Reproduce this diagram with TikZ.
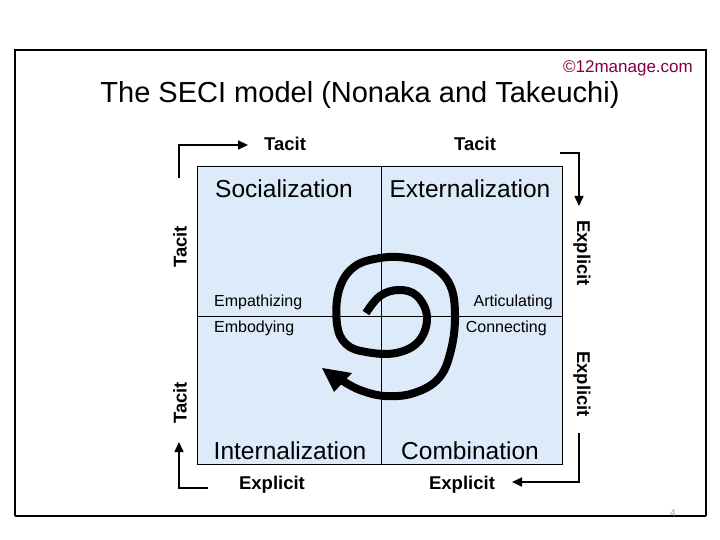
\documentclass[tikz,border=0pt]{standalone}
\usepackage{fontspec}
\setmainfont{Liberation Sans}
\usetikzlibrary{arrows.meta}
\definecolor{quadblue}{RGB}{220,234,249}
\definecolor{brandred}{RGB}{128,0,64}
\tikzset{
  axislabel/.style={font=\fontsize{18.5}{18.5}\selectfont\bfseries, inner sep=0pt},
  quadlabel/.style={font=\fontsize{24.5}{24.5}\selectfont, inner sep=0pt},
  sublabel/.style={font=\fontsize{16}{16}\selectfont, inner sep=0pt},
  flowarrow/.style={line width=1.5pt, -{Triangle[length=10pt,width=9pt]}},
}
\begin{document}
\begin{tikzpicture}[x=1pt,y=-1pt]
\useasboundingbox (0,0) rectangle (720,540);
% frame
\draw[line width=2pt] (15,516) -- (15,50) -- (706,50) -- (706,516);
\draw[line width=1.6pt] (15,516) -- (706,516);
\node[font=\fontsize{10}{10}\selectfont, text=black!35, inner sep=0pt, anchor=base] (pagenum) at (673,516) {4};
% title
\node[font=\fontsize{29}{29}\selectfont, inner sep=0pt, anchor=base] (title) at (360,103) {The SECI model (Nonaka and Takeuchi)};
\node[font=\fontsize{17}{17}\selectfont, text=brandred, inner sep=0pt, anchor=base east] (brand) at (693,73) {\textcopyright12manage.com};
% quadrants
\draw[fill=quadblue, line width=1pt] (197,167) rectangle (562,464);
\draw[line width=0.8pt] (381,167) -- (381,464);
\draw[line width=0.8pt] (197,316) -- (562,316);
\node[quadlabel, anchor=base] (soc) at (284,197) {Socialization};
\node[quadlabel, anchor=base] (ext) at (470,197) {Externalization};
\node[quadlabel, anchor=base] (int) at (290,459) {Internalization};
\node[quadlabel, anchor=base] (com) at (470,459) {Combination};
\node[sublabel, anchor=base west] (emp) at (214,306) {Empathizing};
\node[sublabel, anchor=base west] (emb) at (214,332) {Embodying};
\node[sublabel, anchor=base east] (art) at (553,306) {Articulating};
\node[sublabel, anchor=base east] (con) at (547,332) {Connecting};
% axis labels
\node[axislabel, anchor=base] (t1) at (285,151) {Tacit};
\node[axislabel, anchor=base] (t2) at (475,151) {Tacit};
\node[axislabel, anchor=base] (e1) at (272,489) {Explicit};
\node[axislabel, anchor=base] (e2) at (462,489) {Explicit};
\node[axislabel, rotate=90] (t3) at (180,247) {Tacit};
\node[axislabel, rotate=90] (t4) at (180,403) {Tacit};
\node[axislabel, rotate=-90] (e3) at (582,253) {Explicit};
\node[axislabel, rotate=-90] (e4) at (582,384) {Explicit};
% corner arrows
\coordinate (a1s) at (179,178);
\coordinate (a1e) at (248,145);
\draw[flowarrow] (a1s) |- (a1e);
\coordinate (a2s) at (560,153);
\coordinate (a2e) at (579,206);
\draw[flowarrow] (a2s) -| (a2e);
\coordinate (a3s) at (579,433);
\coordinate (a3e) at (512,482);
\draw[flowarrow] (a3s) |- (a3e);
\coordinate (a4s) at (208,488);
\coordinate (a4e) at (179,442);
\draw[flowarrow] (a4s) -| (a4e);
% spiral
\draw[line width=8pt, line cap=butt, line join=round] plot[smooth, tension=0.65] coordinates {
 (366,313) (380,296) (399,290) (417,296) (427,317) (419,341) (396,353) (366,352) (346,344) (337,324) (339,290) (354,267) (380,258) (407,258) (432,266) (450,285) (455,315) (451,350) (439,378) (414,393) (385,396) (360,390) (343,381)};
\fill (322,368) -- (352,373) -- (334,392) -- cycle;
\end{tikzpicture}
\end{document}
